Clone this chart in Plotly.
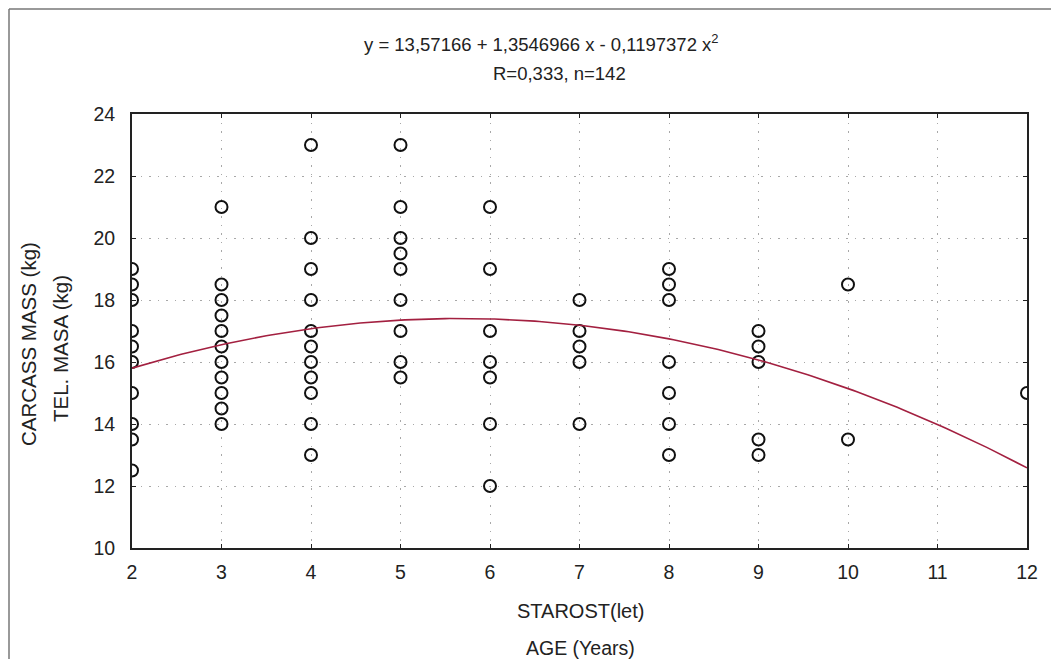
import plotly.graph_objects as go
import numpy as np

# ---- data ----
age_2 = [19, 18.5, 18, 17, 16.5, 16, 15, 14, 13.5, 12.5]
age_3 = [21, 18.5, 18, 17.5, 17, 16.5, 16, 15.5, 15, 14.5, 14]
age_4 = [23, 20, 19, 18, 17, 16.5, 16, 15.5, 15, 14, 13]
age_5 = [23, 21, 20, 19.5, 19, 18, 17, 16, 15.5]
age_6 = [21, 19, 17, 16, 15.5, 14, 12]
age_7 = [18, 17, 16.5, 16, 14]
age_8 = [19, 18.5, 18, 16, 15, 14, 13]
age_9 = [17, 16.5, 16, 13.5, 13]
age_10 = [18.5, 13.5]
age_12 = [15]

groups = {2: age_2, 3: age_3, 4: age_4, 5: age_5, 6: age_6, 7: age_7,
          8: age_8, 9: age_9, 10: age_10, 12: age_12}

# regression coefficients as printed on the chart
coef_a = 13.57166
coef_b = 1.3546966
coef_c = -0.1197372

x_ticks = [2, 3, 4, 5, 6, 7, 8, 9, 10, 11, 12]
y_ticks = [10, 12, 14, 16, 18, 20, 22, 24]

xs = []
ys = []
for k, vals in groups.items():
    xs += [k] * len(vals)
    ys += vals

curve_x = np.linspace(2, 12, 201)
curve_y = coef_a + coef_b * curve_x + coef_c * curve_x ** 2

OFF = 8  # default body margin of the html page
W, H = 1059 - 2 * OFF, 667 - 2 * OFF
L, R, T, B = 132 - OFF, 1027 - OFF, 114 - OFF, 548 - OFF


def px(xp):
    return (xp - OFF - L) / (R - L)


def py(yp):
    return (B - (yp - OFF)) / (B - T)


fig = go.Figure()
fig.add_trace(go.Scatter(
    x=xs, y=ys, mode="markers",
    marker=dict(symbol="circle-open", size=12, color="#111111",
                line=dict(width=2, color="#111111")),
    showlegend=False, hoverinfo="x+y"))
fig.add_trace(go.Scatter(
    x=curve_x, y=curve_y, mode="lines",
    line=dict(color="#a32040", width=1.6),
    showlegend=False, hoverinfo="skip"))

FAM = "Arial, Liberation Sans, sans-serif"
font = dict(family=FAM, size=18, color="#222222")

axis_common = dict(ticks="inside", ticklen=4, tickcolor="#222", showline=True,
                   linecolor="#222", linewidth=2, mirror="ticks", showgrid=True,
                   gridcolor="#a8a8a8", griddash="1.5px,7px", gridwidth=1,
                   zeroline=False, tickfont=dict(family=FAM, size=19.5, color="#222222"))

fig.update_layout(
    width=W, height=H, autosize=False,
    margin=dict(l=L, r=W - R, t=T, b=H - B),
    paper_bgcolor="white", plot_bgcolor="white",
    font=font,
    xaxis=dict(range=[2, 12], tickvals=x_ticks, ticklabelstandoff=6, **axis_common),
    yaxis=dict(range=[10, 24], tickvals=y_ticks, ticklabelstandoff=11, **axis_common),
)

ann = [
    ("y = 13,57166 + 1,3546966 x - 0,1197372 x<sup>2</sup>", 541, 43, 0, 18.5),
    ("R=0,333, n=142", 559, 73, 0, 18.5),
    ("STAROST(let)", 580, 611, 0, 20),
    ("AGE (Years)", 580, 648, 0, 19.5),
    ("CARCASS MASS (kg)", 28, 344, -90, 20.5),
    ("TEL. MASA (kg)", 60, 349, -90, 20.5),
]
for text, xp, yp, ang, fs in ann:
    fig.add_annotation(text=text, x=px(xp), y=py(yp), xref="paper", yref="paper",
                       showarrow=False, textangle=ang, xanchor="center", yanchor="middle",
                       font=dict(family=FAM, size=fs, color="#222222"))

# outer frame lines (left and top edges visible in the reference)
fig.add_shape(type="line", xref="paper", yref="paper",
              x0=px(9), y0=py(9), x1=px(1059), y1=py(9),
              line=dict(color="#777777", width=1.5))
fig.add_shape(type="line", xref="paper", yref="paper",
              x0=px(9), y0=py(9), x1=px(9), y1=py(667),
              line=dict(color="#777777", width=1.5))

fig.write_html("out.html")
